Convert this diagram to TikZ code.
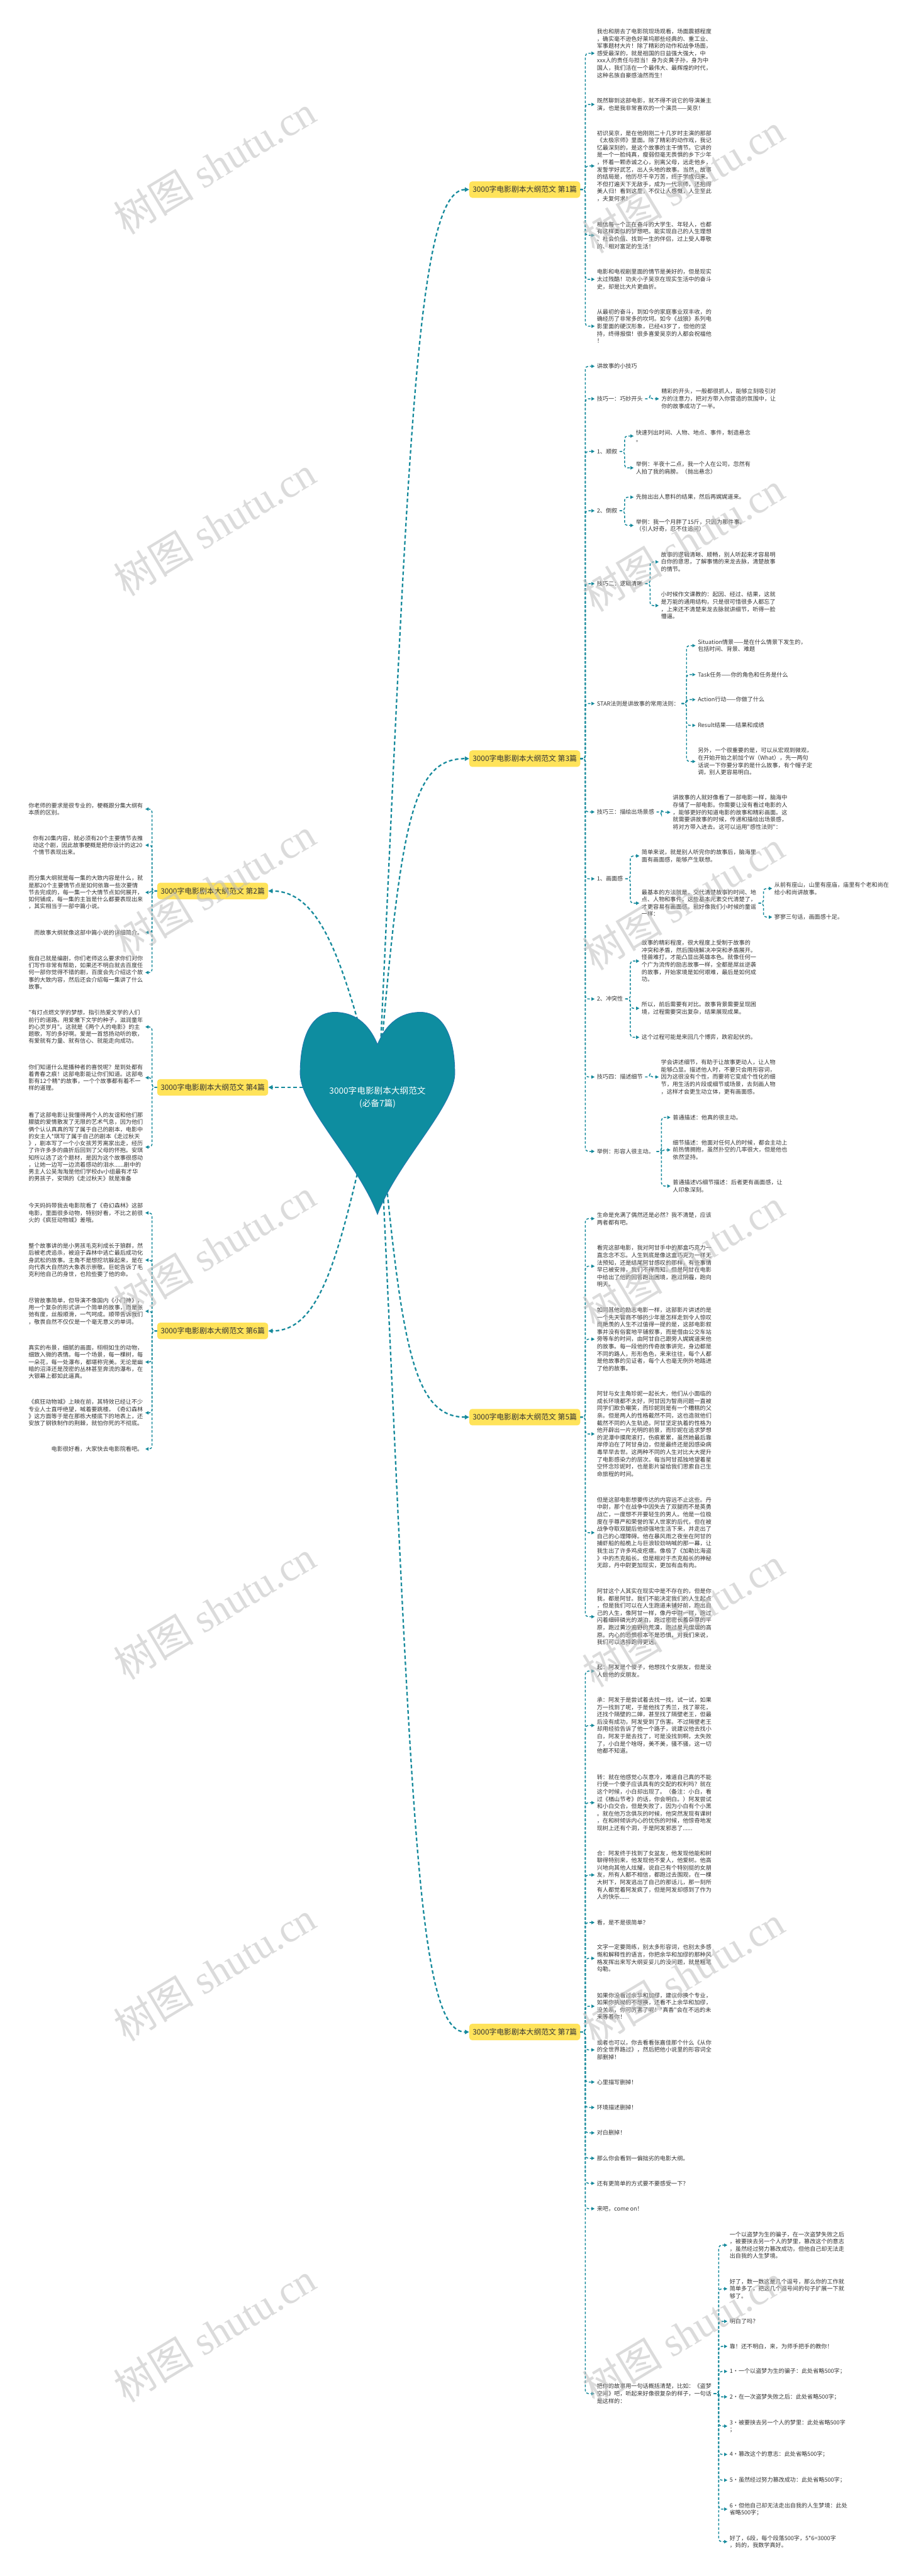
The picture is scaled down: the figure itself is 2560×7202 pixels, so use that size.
\documentclass[tikz,border=0pt]{standalone}
\usepackage{fontspec}
\newfontfamily\cjk{Noto Sans CJK SC}
\newfontfamily\wmserif{Liberation Serif}
\usetikzlibrary{arrows.meta}
\definecolor{tealc}{RGB}{22,138,156}
\definecolor{heartc}{RGB}{14,141,160}
\definecolor{heartb}{RGB}{36,118,172}
\definecolor{ybox}{RGB}{255,227,90}
\definecolor{txtc}{RGB}{51,51,51}
\definecolor{wmc}{RGB}{190,190,190}
\newcommand\rlink[2]{\draw[conn] (#1.east) -- ++(14,0) |- (#2.west);}
\newcommand\llink[2]{\draw[conn] (#1.west) -- ++(-14,0) |- (#2.east);}
\begin{document}
\begin{tikzpicture}[x=0.5pt,y=-0.5pt,
 conn/.style={draw=tealc, line width=1.3pt, dash pattern=on 3.5pt off 2.5pt, rounded corners=4pt, -{Triangle[length=4.5pt,width=4.5pt]}},
 mainconn/.style={draw=tealc, line width=2pt, dash pattern=on 5pt off 3.5pt, -{Triangle[length=6pt,width=6pt]}},
 rt/.style={anchor=west, font=\cjk\fontsize{8pt}{10.2pt}\selectfont, text=txtc, align=left, inner xsep=3pt, inner ysep=1pt},
 lt/.style={anchor=east, font=\cjk\fontsize{8pt}{9.9pt}\selectfont, text=txtc, align=left, inner xsep=3pt, inner ysep=1pt},
 topicr/.style={anchor=east, fill=ybox, rounded corners=4pt, font=\cjk\fontsize{10.4pt}{12pt}\selectfont, text=txtc, minimum width=155pt, minimum height=23pt, inner sep=0pt},
 topicl/.style={topicr, anchor=west},
 wm/.style={rotate=31, text=wmc, opacity=0.55, font=\wmserif\fontsize{56pt}{60pt}\selectfont}
]
\useasboundingbox (0,0) rectangle (2560,7202);
\fill[white] (0,0) rectangle (2560,7202);

% ---------- section nodes ----------
\node[topicr] (s1) at (1622,530) {3000字电影剧本大纲范文 第1篇};
\node[topicr] (s3) at (1622,2121) {3000字电影剧本大纲范文 第3篇};
\node[topicr] (s5) at (1622,3962) {3000字电影剧本大纲范文 第5篇};
\node[topicr] (s7) at (1622,5681) {3000字电影剧本大纲范文 第7篇};
\node[topicl] (s2) at (439,2491) {3000字电影剧本大纲范文 第2篇};
\node[topicl] (s4) at (439,3040) {3000字电影剧本大纲范文 第4篇};
\node[topicl] (s6) at (439,3721) {3000字电影剧本大纲范文 第6篇};

% ---------- main connectors (from heart) ----------
\draw[mainconn] (1060,3000) .. controls (1140,1300) and (1160,530) .. (s1.west);
\draw[mainconn] (1060,3000) .. controls (1120,2300) and (1150,2121) .. (s3.west);
\draw[mainconn] (1060,3100) .. controls (1120,3750) and (1150,3962) .. (s5.west);
\draw[mainconn] (1060,3100) .. controls (1150,5000) and (1160,5681) .. (s7.west);
\draw[mainconn] (1040,3000) .. controls (960,2700) and (900,2491) .. (s2.east);
\draw[mainconn] (1000,3040) -- (s4.east);
\draw[mainconn] (1040,3100) .. controls (950,3500) and (900,3721) .. (s6.east);

% ---------- heart ----------
\filldraw[fill=heartc, draw=heartb, line width=0.8pt] (1055,2920) .. controls (1080,2860) and (1120,2830) .. (1175,2830) .. controls (1240,2830) and (1272,2900) .. (1271,3005) .. controls (1265,3100) and (1110,3250) .. (1055,3395) .. controls (1000,3250) and (845,3100) .. (839,3005) .. controls (838,2900) and (870,2830) .. (935,2830) .. controls (990,2830) and (1030,2860) .. (1055,2920) -- cycle;
\node[font=\cjk\fontsize{12pt}{17pt}\selectfont, text=white, align=center] (heart) at (1055,3068) {3000字电影剧本大纲范文\\(必备7篇)};

% ---------- section 1 ----------
\node[rt] (a1) at (1662,149) {我也和朋去了电影院现场观看，场面震撼程度\\，确实毫不逊色好莱坞那些经典的、重工业、\\军事题材大片！除了精彩的动作和战争场面，\\感受最深的，就是祖国的日益强大强大，中\\xxx人的责任与担当！身为炎黄子孙，身为中\\国人，我们活在一个最伟大、最辉煌的时代，\\这种名族自豪感油然而生！};
\node[rt] (a2) at (1662,292) {既然聊到这部电影，就不得不说它的导演兼主\\演，也是我非常喜欢的一个演员——吴京！};
\node[rt] (a3) at (1662,464) {初识吴京，是在他刚刚二十几岁时主演的那部\\《太极宗师》里面。除了精彩的动作戏，我记\\忆最深刻的，是这个故事的主干情节。它讲的\\是一个一脸纯真，瘦弱但毫无畏惧的乡下少年\\，怀着一颗赤诚之心，别离父母，远走他乡，\\发誓学好武艺，出人头地的故事。当然，故事\\的结局是，他历尽千辛万苦，终于学成归来。\\不但打遍天下无敌手，成为一代宗师，还抱得\\美人归！看到这里，不仅让人感慨，人生至此\\，夫复何求！};
\node[rt] (a4) at (1662,658) {相信每一个正在奋斗的大学生、年轻人，也都\\有这样类似的梦想吧。能实现自己的人生理想\\、社会价值、找到一生的伴侣，过上受人尊敬\\的、相对富足的生活！};
\node[rt] (a5) at (1662,781) {电影和电视剧里面的情节是美好的，但是现实\\太过残酷！功夫小子吴京在现实生活中的奋斗\\史，却是比大片更曲折。};
\node[rt] (a6) at (1662,912) {从最初的奋斗，到如今的家庭事业双丰收，的\\确经历了非常多的坎坷。如今《战狼》系列电\\影里面的硬汉形象，已经43岁了，但他的坚\\持，终得报偿！很多喜爱吴京的人都会祝福他\\！};
\foreach \c in {a1,a2,a3,a4,a5,a6} {\rlink{s1}{\c}}

% ---------- section 3 ----------
\node[rt] (b1) at (1662,1024) {讲故事的小技巧};
\node[rt] (b2) at (1662,1115) {技巧一：巧妙开头};
\node[rt] (b2a) at (1842,1115) {精彩的开头，一般都很抓人，能够立刻吸引对\\方的注意力，把对方带入你营造的氛围中，让\\你的故事成功了一半。};
\node[rt] (b3) at (1662,1262) {1、顺叙};
\node[rt] (b3a) at (1771,1219) {快速列出时间、人物、地点、事件，制造悬念\\。};
\node[rt] (b3b) at (1771,1308) {举例：半夜十二点，我一个人在公司，忽然有\\人拍了我的肩膀。（抛出悬念）};
\node[rt] (b4) at (1662,1428) {2、倒叙};
\node[rt] (b4a) at (1771,1390) {先抛出出人意料的结果，然后再娓娓道来。};
\node[rt] (b4b) at (1771,1469) {举例：我一个月胖了15斤，只因为那件事。\\（引人好奇，忍不住追问）};
\node[rt] (b5) at (1662,1632) {技巧二：逻辑清晰};
\node[rt] (b5a) at (1841,1571) {故事的逻辑清晰、顺畅，别人听起来才容易明\\白你的意思，了解事情的来龙去脉，清楚故事\\的情节。};
\node[rt] (b5b) at (1841,1693) {小时候作文课教的：起因、经过、结果，这就\\是万能的通用结构，只是很可惜很多人都忘了\\，上来还不清楚来龙去脉就讲细节，听得一脸\\懵逼。};
\node[rt] (b6) at (1662,1967) {STAR法则是讲故事的常用法则：};
\node[rt] (b6a) at (1944,1805) {Situation情景——是在什么情景下发生的，\\包括时间、背景、难题};
\node[rt] (b6b) at (1944,1886) {Task任务——你的角色和任务是什么};
\node[rt] (b6c) at (1944,1956) {Action行动——你做了什么};
\node[rt] (b6d) at (1944,2028) {Result结果——结果和成绩};
\node[rt] (b6e) at (1944,2129) {另外，一个很重要的是，可以从宏观到微观，\\在开始开始之前加个W（What），先一两句\\话说一下你要分享的是什么故事，有个帽子定\\调，别人更容易明白。};
\node[rt] (b7) at (1662,2270) {技巧三：描绘出场景感};
\node[rt] (b7a) at (1874,2271) {讲故事的人就好像看了一部电影一样，脑海中\\存储了一部电影。你需要让没有看过电影的人\\，能够更好的知道电影的故事和精彩画面。这\\就需要讲故事的时候，传递和描绘出场景感，\\将对方带入进去。这可以运用"感性法则"：};
\node[rt] (b8) at (1662,2457) {1、画面感};
\node[rt] (b8a) at (1787,2393) {简单来说，就是别人听完你的故事后，脑海里\\面有画面感，能够产生联想。};
\node[rt] (b8b) at (1787,2525) {最基本的方法就是，交代清楚故事的时间、地\\点、人物和事件，这些基本元素交代清楚了，\\才更容易有画面感。就好像我们小时候的童谣\\一样：};
\node[rt] (b8b1) at (2158,2484) {从前有座山，山里有座庙，庙里有个老和尚在\\给小和尚讲故事。};
\node[rt] (b8b2) at (2158,2564) {寥寥三句话，画面感十足。};
\node[rt] (b9) at (1662,2793) {2、冲突性};
\node[rt] (b9a) at (1787,2687) {故事的精彩程度，很大程度上受制于故事的\\冲突和矛盾，然后围绕解决冲突和矛盾展开。\\怪兽难打，才能凸显出英雄本色。就像任何一\\个广为流传的励志故事一样，全都是屌丝逆袭\\的故事，开始家境是如何艰难，最后是如何成\\功。};
\node[rt] (b9b) at (1787,2819) {所以，前后需要有对比。故事背景需要呈现困\\境，过程需要突出复杂，结果展现成果。};
\node[rt] (b9c) at (1787,2900) {这个过程可能是来回几个博弈，跌宕起伏的。};
\node[rt] (b10) at (1662,3011) {技巧四：描述细节};
\node[rt] (b10a) at (1841,3011) {学会讲述细节，有助于让故事更动人，让人物\\能够凸显。描述他人时，不要只会用形容词，\\因为这很没有个性，而要将它变成个性化的细\\节，用生活的片段或细节或场景，去刻画人物\\，这样才会更生动立体，更有画面感。};
\node[rt] (b11) at (1662,3219) {举例：形容人很主动。};
\node[rt] (b11a) at (1874,3124) {普通描述：他真的很主动。};
\node[rt] (b11b) at (1874,3215) {细节描述：他面对任何人的时候，都会主动上\\前热情拥抱，虽然扑空的几率很大，但是他也\\依然坚持。};
\node[rt] (b11c) at (1874,3316) {普通描述VS细节描述：后者更有画面感，让\\人印象深刻。};
\foreach \c in {b1,b2,b3,b4,b5,b6,b7,b8,b9,b10,b11} {\rlink{s3}{\c}}
\rlink{b2}{b2a}
\rlink{b3}{b3a} \rlink{b3}{b3b}
\rlink{b4}{b4a} \rlink{b4}{b4b}
\rlink{b5}{b5a} \rlink{b5}{b5b}
\foreach \c in {b6a,b6b,b6c,b6d,b6e} {\rlink{b6}{\c}}
\rlink{b7}{b7a}
\rlink{b8}{b8a} \rlink{b8}{b8b}
\rlink{b8b}{b8b1} \rlink{b8b}{b8b2}
\rlink{b9}{b9a} \rlink{b9}{b9b} \rlink{b9}{b9c}
\rlink{b10}{b10a}
\rlink{b11}{b11a} \rlink{b11}{b11b} \rlink{b11}{b11c}

% ---------- section 5 ----------
\node[rt] (c1) at (1662,3407) {生命是充满了偶然还是必然？我不清楚，应该\\两者都有吧。};
\node[rt] (c2) at (1662,3540) {看完这部电影，我对阿甘手中的那盒巧克力一\\直念念不忘。人生到底是像这盒巧克力一样无\\法预知，还是结尾阿甘感叹的那样，有些事情\\早已被安排，我们不得而知。但是阿甘在电影\\中给出了他的回答跑出困境，跑过阴霾，跑向\\明天。};
\node[rt] (c3) at (1662,3744) {如同其他的励志电影一样，这部影片讲述的是\\一个先天智商不够的少年是怎样走到令人惊叹\\而艳羡的人生不过值得一提的是，这部电影叙\\事并没有俗套地平铺叙事，而是借由公交车站\\旁等车的时间，由阿甘自己跟旁人娓娓道来他\\的故事。每一段他的传奇故事讲完，身边都是\\不同的路人，形形色色，来来往往，每个人都\\是他故事的见证者，每个人也毫无例外地踏进\\了他的故事。};
\node[rt] (c4) at (1662,4009) {阿甘与女主角珍妮一起长大，他们从小面临的\\成长环境都不太好，阿甘因为智商问题一直被\\同学们欺负嘲笑，而珍妮则是有一个糟糕的父\\亲。但是两人的性格截然不同，这也造就他们\\截然不同的人生轨迹。阿甘坚定执着的性格为\\他开辟出一片光明的前景，而珍妮在追求梦想\\的泥潭中摸爬滚打，伤痕累累，虽然她最后靠\\岸停泊在了阿甘身边，但是最终还是因感染病\\毒早早去世。这两种不同的人生对比大大提升\\了电影感染力的层次。每当阿甘孤独地望着星\\空怀念珍妮时，也是影片留给我们思索自己生\\命旅程的时间。};
\node[rt] (c5) at (1662,4285) {但是这部电影想要传达的内容远不止这些。丹\\中尉，那个在战争中因失去了双腿而不是英勇\\战亡，一度想不开要轻生的男人。他是一位极\\度在乎尊严和荣誉的军人世家的后代，但在被\\战争夺取双腿后他顽强地生活下来，并走出了\\自己的心理障碍。他在暴风雨之夜坐在阿甘的\\捕虾船的船桅上与巨浪较劲呐喊的那一幕，让\\我生出了许多鸡皮疙瘩。像极了《加勒比海盗\\》中的杰克船长。但是相对于杰克船长的神秘\\无踪，丹中尉更加现实，更加有血有肉。};
\node[rt] (c6) at (1662,4520) {阿甘这个人其实在现实中是不存在的，但是你\\我，都是阿甘。我们不能决定我们的人生起点\\，但是我们可以在人生跑道未铺好前，跑出自\\己的人生，像阿甘一样，像丹中尉一样，跑过\\闪着细碎磷光的湖泊，跑过密密长着杂草的平\\原，跑过黄沙遍野的荒漠，跑过星光熠熠的高\\原。内心的恐惧根本不是恐惧，对我们来说，\\我们可以选择跑得更远。};
\foreach \c in {c1,c2,c3,c4,c5,c6} {\rlink{s5}{\c}}

% ---------- section 7 ----------
\node[rt] (d1) at (1662,4672) {起：阿发是个傻子，他想找个女朋友，但是没\\人做他的女朋友。};
\node[rt] (d2) at (1662,4824) {承：阿发于是尝试着去找一找，试一试，如果\\万一找到了呢，于是他找了秀兰，找了翠花，\\还找个隔壁的二婶，甚至找了隔壁老王，但最\\后没有成功，阿发受到了伤害。不过隔壁老王\\却用经验告诉了他一个路子，说建议他去找小\\白，阿发于是去找了，可是没找到啊，太失败\\了，小白是个啥呀，美不美，骚不骚，这一切\\他都不知道。};
\node[rt] (d3) at (1662,5040) {转：就在他感觉心灰意冷，难道自己真的不能\\行使一个傻子应该具有的交配的权利吗？就在\\这个时候，小白却出现了。（备注：小白，看\\过《楢山节考》的话，你会明白。）阿发尝试\\和小白交合，但是失败了，因为小白有个小黑\\。就在他万念俱灰的时候，他突然发现有课树\\，在和树倾诉内心的忧伤的时候，他惊奇地发\\现树上还有个洞，于是阿发邪恶了......};
\node[rt] (d4) at (1662,5242) {合：阿发终于找到了女盆友，他发现他能和树\\聊得特别来，他发现他不爱人，他爱树。他高\\兴地向其他人炫耀，说自己有个特别挺的女朋\\友，所有人都不相信，都跑过去围观，在一棵\\大树下，阿发逃出了自己的那话儿，那一刻所\\有人都觉着阿发疯了，但是阿发却感到了作为\\人的快乐......};
\node[rt] (d5) at (1662,5375) {看，是不是很简单？};
\node[rt] (d6) at (1662,5475) {文字一定要简练，别太多形容词，也别太多感\\慨和解释性的语言，你把余华和加缪的那种风\\格发挥出来写大纲妥妥儿的没问题，就是粗笔\\勾勒。};
\node[rt] (d7) at (1662,5609) {如果你没看过余华和加缪，建议你换个专业，\\如果你执拗的不想换，还看不上余华和加缪，\\没关系，你可厉害了呢！"真香"会在不远的未\\来等着你！};
\node[rt] (d8) at (1662,5731) {或者也可以，你去看看张嘉佳那个什么《从你\\的全世界路过》，然后把他小说里的形容词全\\部删掉！};
\node[rt] (d9) at (1662,5821) {心里描写删掉！};
\node[rt] (d10) at (1662,5892) {环境描述删掉！};
\node[rt] (d11) at (1662,5963) {对白删掉！};
\node[rt] (d12) at (1662,6034) {那么你会看到一偏拙劣的电影大纲。};
\node[rt] (d13) at (1662,6104) {还有更简单的方式要不要感受一下？};
\node[rt] (d14) at (1662,6175) {来吧，come on！};
\node[rt] (d15) at (1662,6692) {把你的故事用一句话概括清楚，比如：《盗梦\\空间》吧，听起来好像很复杂的样子，一句话\\是这样的：};
\foreach \c in {d1,d2,d3,d4,d5,d6,d7,d8,d9,d10,d11,d12,d13,d14,d15} {\rlink{s7}{\c}}
\node[rt] (e1) at (2033,6277) {一个以盗梦为生的骗子，在一次盗梦失败之后\\，被要挟去另一个人的梦里，篡改这个的意志\\，虽然经过努力篡改成功，但他自己却无法走\\出自我的人生梦境。};
\node[rt] (e2) at (2033,6399) {好了，数一数这是几个逗号，那么你的工作就\\简单多了，把这几个逗号间的句子扩展一下就\\够了。};
\node[rt] (e3) at (2033,6490) {明白了吗？};
\node[rt] (e4) at (2033,6560) {靠！还不明白，来，为师手把手的教你！};
\node[rt] (e5) at (2033,6630) {1·一个以盗梦为生的骗子：此处省略500字；};
\node[rt] (e6) at (2033,6701) {2·在一次盗梦失败之后：此处省略500字；};
\node[rt] (e7) at (2033,6783) {3·被要挟去另一个人的梦里：此处省略500字\\；};
\node[rt] (e8) at (2033,6862) {4·篡改这个的意志：此处省略500字；};
\node[rt] (e9) at (2033,6934) {5·虽然经过努力篡改成功：此处省略500字；};
\node[rt] (e10) at (2033,7015) {6·但他自己却无法走出自我的人生梦境：此处\\省略500字；};
\node[rt] (e11) at (2033,7106) {好了，6段，每个段落500字，5*6=3000字\\，妈的，我数学真好。};
\foreach \c in {e1,e2,e3,e4,e5,e6,e7,e8,e9,e10,e11} {\rlink{d15}{\c}}

% ---------- section 2 (left) ----------
\node[lt] (f1) at (406,2262) {你老师的要求是很专业的，梗概跟分集大纲有\\本质的区别。};
\node[lt] (f2) at (406,2363) {你有20集内容，就必须有20个主要情节去推\\动这个剧，因此故事梗概是把你设计的这20\\个情节表现出来。};
\node[lt] (f3) at (406,2495) {而分集大纲就是每一集的大致内容是什么，就\\是那20个主要情节点是如何依靠一些次要情\\节去完成的，每一集一个大情节点如何展开，\\如何铺成，每一集的主旨是什么都要表现出来\\，其实相当于一部中篇小说。};
\node[lt] (f4) at (406,2607) {而故事大纲就像这部中篇小说的详细简介。};
\node[lt] (f5) at (406,2719) {我自己就是编剧，你们老师这么要求你们对你\\们写作非常有帮助，如果还不明白就去百度任\\何一部你觉得不错的剧，百度会先介绍这个故\\事的大致内容，然后还会介绍每一集讲了什么\\故事。};
\foreach \c in {f1,f2,f3,f4,f5} {\llink{s2}{\c}}

% ---------- section 4 (left) ----------
\node[lt] (g1) at (406,2871) {"有灯点燃文学的梦想，指引热爱文学的人们\\前行的道路。用爱撒下文学的种子，滋润童年\\的心灵岁月"。这就是《两个人的电影》的主\\题歌，写的多好啊。爱是一首悠扬动听的歌，\\有爱就有力量、就有信心、就能走向成功。};
\node[lt] (g2) at (406,3013) {你们知道什么是播种者的喜悦呢？是到处都有\\着青春之痕！这部电影能让你们知道。这部电\\影有12个精*的故事，一个个故事都有着不一\\样的道理。};
\node[lt] (g3) at (406,3207) {看了这部电影让我懂得两个人的友谊和他们那\\朦胧的爱情散发了无限的艺术气息，因为他们\\俩个认认真真的写了属于自己的剧本，电影中\\的女主人*琪写了属于自己的剧本《走过秋天\\》，剧本写了一个小女孩芳芳离家出走，经历\\了许许多多的曲折后回到了父母的怀抱。安琪\\知所以选了这个题材，是因为这个故事很感动\\，让她一边写一边流着感动的泪水......剧中的\\男主人公吴淘淘是他们学校dv小组最有才华\\的男孩子，安琪的《走过秋天》就是准备};
\foreach \c in {g1,g2,g3} {\llink{s4}{\c}}

% ---------- section 6 (left) ----------
\node[lt] (h1) at (406,3391) {今天妈妈带我去电影院看了《奇幻森林》这部\\电影，里面很多动物，特别好看，不比之前很\\火的《疯狂动物城》差哦。};
\node[lt] (h2) at (406,3523) {整个故事讲的是小男孩毛克利成长于狼群，然\\后被老虎追杀，被迫于森林中逃亡最后成功化\\身武松的故事。主角不是想挖坑躲起来，是在\\向代表大自然的大象表示崇敬。巨蛇告诉了毛\\克利他自己的身世，也险些要了他的命。};
\node[lt] (h3) at (406,3666) {尽管故事简单，但导演不像国内《小门神》，\\用一个复杂的形式讲一个简单的故事，而是张\\弛有度，丝般顺滑，一气呵成。顺带告诉我们\\，敬畏自然不仅仅是一个毫无意义的单词。};
\node[lt] (h4) at (406,3808) {真实的布景，细腻的画面，栩栩如生的动物，\\细致入微的表情。每一个场景，每一棵树，每\\一朵花，每一处瀑布，都堪称完美。无论是幽\\暗的沼泽还是茂密的丛林甚至奔流的瀑布，在\\大银幕上都如此逼真。};
\node[lt] (h5) at (406,3950) {《疯狂动物城》上映在前，其特效已经让不少\\专业人士直呼绝望，喊着要跳楼。《奇幻森林\\》这方面等于是在那栋大楼底下的地表上，还\\安放了钢铁制作的荆棘，就怕你死的不彻底。};
\node[lt] (h6) at (406,4051) {电影很好看，大家快去电影院看吧。};
\foreach \c in {h1,h2,h3,h4,h5,h6} {\llink{s6}{\c}}

% ---------- watermarks ----------
\foreach \k in {0,...,6} {
  \node[wm] at (1910,{513+1002*\k}) {{\cjk 树图} shutu.cn};
  \node[wm] at (600,{461+1010*\k}) {{\cjk 树图} shutu.cn};
}
\end{tikzpicture}
\end{document}
